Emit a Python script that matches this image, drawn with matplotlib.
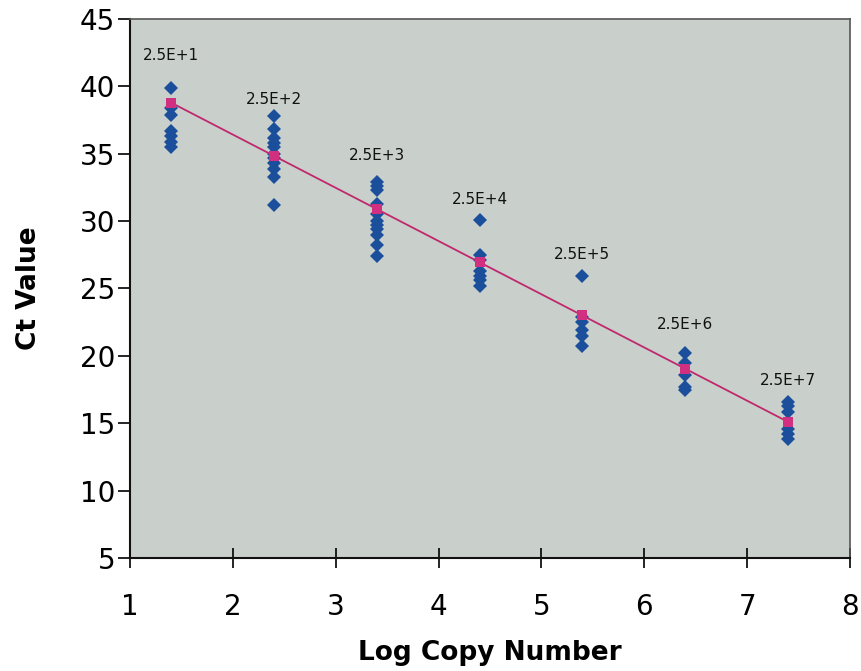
import numpy as np
import matplotlib
matplotlib.use("Agg")
import matplotlib.pyplot as plt

plt.rcParams['font.family'] = ['DejaVu Sans']

# Data
copy_numbers = [2.5e1, 2.5e2, 2.5e3, 2.5e4, 2.5e5, 2.5e6, 2.5e7]
labels = ["2.5E+1", "2.5E+2", "2.5E+3", "2.5E+4", "2.5E+5", "2.5E+6", "2.5E+7"]
ct_1 = [39.9, 38.4, 37.9, 36.7, 36.3, 35.9, 35.5]
ct_2 = [37.8, 36.8, 36.2, 35.8, 35.5, 35.0, 34.7, 34.3, 33.9, 33.3, 31.2]
ct_3 = [32.9, 32.6, 32.3, 31.3, 30.5, 30.0, 29.7, 29.4, 29.0, 28.2, 27.4]
ct_4 = [30.1, 27.5, 27.1, 26.3, 25.9, 25.6, 25.2]
ct_5 = [25.9, 22.9, 22.5, 21.9, 21.5, 20.7]
ct_6 = [20.2, 19.5, 18.6, 17.7, 17.5]
ct_7 = [16.6, 16.3, 15.8, 14.6, 14.2, 13.8]
ct_fit = [38.8, 34.85, 30.9, 26.95, 23.0, 19.05, 15.1]
label_y = [42.3, 39.0, 34.9, 31.6, 27.5, 22.3, 18.2]

ct_groups = [ct_1, ct_2, ct_3, ct_4, ct_5, ct_6, ct_7]
log_copy = np.log10(copy_numbers)

fig = plt.figure(figsize=(8.62, 6.71), dpi=100)
ax = fig.add_axes([130/862, 1 - 558/671, (850-130)/862, (558-19)/671])
ax.set_facecolor('#c9d0cb')

for xv, grp in zip(log_copy, ct_groups):
    ax.plot([xv]*len(grp), grp, linestyle='none', marker='D', markersize=7.5,
            color='#1b4f9c', markeredgewidth=0, zorder=3)

ax.plot(log_copy, ct_fit, color='#c0286e', linewidth=1.3, marker='s',
        markersize=7, markerfacecolor='#d0307f', markeredgewidth=0, zorder=4)

for xv, lab, ly in zip(log_copy, labels, label_y):
    ax.text(xv, ly, lab, ha='center', va='center', fontsize=11, color='#111111')

ax.set_xlim(1, 8)
ax.set_ylim(5, 45)
ax.set_xticks(range(1, 9))
ax.set_yticks(range(5, 46, 5))
ax.tick_params(axis='x', direction='inout', length=13.7, width=1.2, labelsize=20, pad=18)
ax.tick_params(axis='y', direction='out', length=8.6, width=1.2, labelsize=20, pad=2)

for s in ['left', 'bottom']:
    ax.spines[s].set_linewidth(1.5)
    ax.spines[s].set_color('#111111')
for s in ['top', 'right']:
    ax.spines[s].set_linewidth(1.2)
    ax.spines[s].set_color('#555555')

ax.set_xlabel('Log Copy Number', fontsize=19, fontweight='bold')
ax.set_ylabel('Ct Value', fontsize=19, fontweight='bold')
ax.xaxis.set_label_coords(0.5, -0.153)
ax.yaxis.set_label_coords(-0.122, 0.5)

fig.savefig('out.png', dpi=100)
